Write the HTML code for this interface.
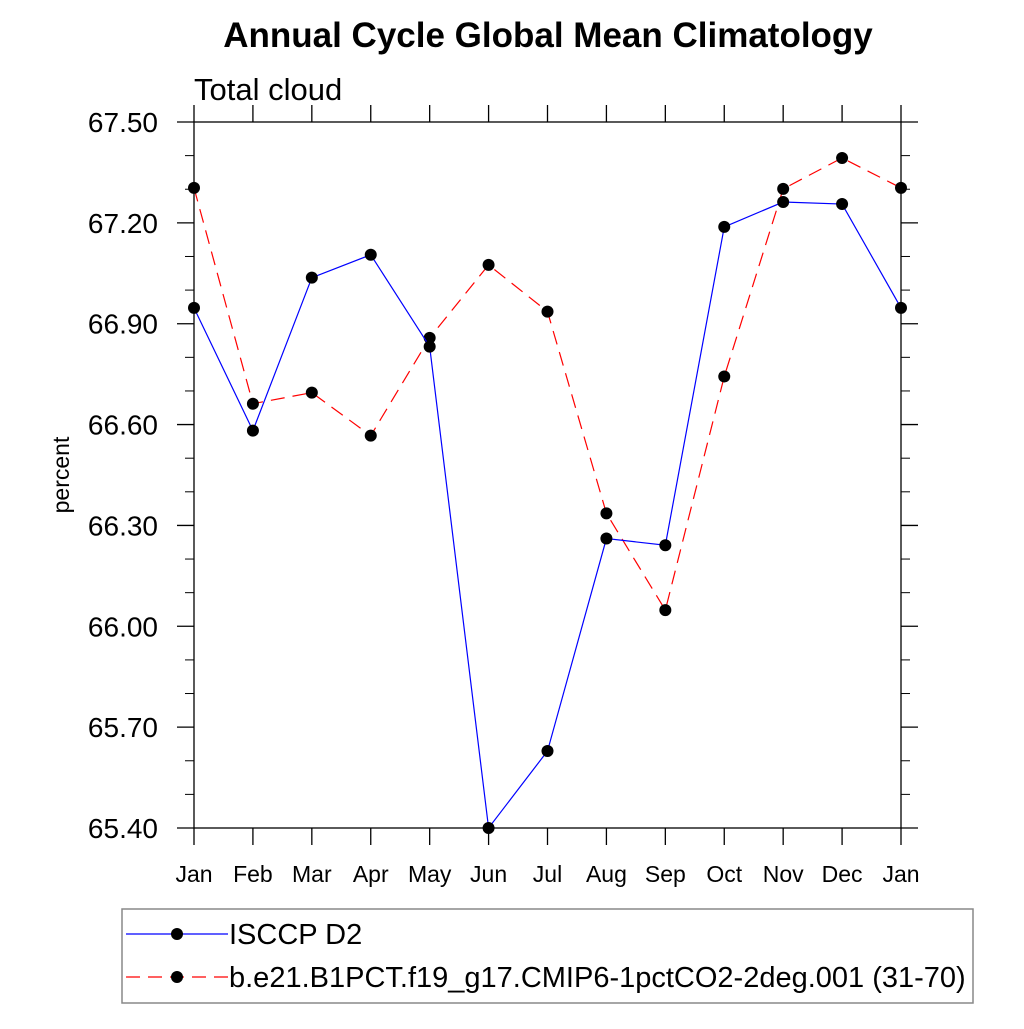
<!DOCTYPE html>
<html><head><meta charset="utf-8"><style>
body{margin:0;background:#fff;}
svg text{font-family:"Liberation Sans",Arial,sans-serif;}
</style></head><body>
<svg id="chart" width="1024" height="1024" viewBox="0 0 1024 1024" xmlns="http://www.w3.org/2000/svg">
<text x="548" y="47" text-anchor="middle" font-size="35" font-weight="bold">Annual Cycle Global Mean Climatology</text>
<text x="194" y="100" font-size="31">Total cloud</text>
<text transform="translate(69,475) rotate(-90)" text-anchor="middle" font-size="23">percent</text>
<g id="axes"></g>
<g id="series"></g>
<g>
<rect x="122" y="909" width="851" height="94" fill="none" stroke="#888" stroke-width="1.5"/>
<g>
<line x1="126" y1="934" x2="228" y2="934" stroke="#0000ff" stroke-width="1.2"/>
<circle cx="177" cy="934" r="6" fill="#000"/>
<text x="229" y="944" font-size="29">ISCCP D2</text></g>
<g>
<line x1="126" y1="977" x2="228" y2="977" stroke="#ff0000" stroke-width="1.2" stroke-dasharray="14,8"/>
<circle cx="177" cy="977" r="6" fill="#000"/>
<text x="229" y="987" font-size="29">b.e21.B1PCT.f19_g17.CMIP6-1pctCO2-2deg.001 (31-70)</text></g>
</g>
</svg>
<script>
const months=["Jan","Feb","Mar","Apr","May","Jun","Jul","Aug","Sep","Oct","Nov","Dec","Jan"];
const isccp=[66.947,66.582,67.037,67.105,66.832,65.40,65.629,66.261,66.241,67.188,67.262,67.256,66.947];
const model=[67.304,66.662,66.695,66.567,66.858,67.075,66.936,66.336,66.048,66.743,67.301,67.393,67.304];
const yTicks=[65.40,65.70,66.00,66.30,66.60,66.90,67.20,67.50];
const yTickLabels=["65.40","65.70","66.00","66.30","66.60","66.90","67.20","67.50"];
const X0=194,X1=901,Y0=828,Y1=122,YMIN=65.4,YMAX=67.5;
const xs=i=>X0+(X1-X0)*i/(months.length-1);
const ys=v=>Y0-(v-YMIN)/(YMAX-YMIN)*(Y0-Y1);
const NS="http://www.w3.org/2000/svg";
function mk(t,a,p){const e=document.createElementNS(NS,t);for(const k in a)e.setAttribute(k,a[k]);p.appendChild(e);return e;}
const ax=document.getElementById('axes');
mk('rect',{x:X0,y:Y1,width:X1-X0,height:Y0-Y1,fill:'none',stroke:'#000','stroke-width':1.3},ax);
yTicks.forEach((v,i)=>{
 const y=ys(v);
 const t=mk('line',{x1:X0-17,y1:y,x2:X0,y2:y,stroke:'#000','stroke-width':1.3},ax);
 
 
 mk('line',{x1:X1,y1:y,x2:X1+17,y2:y,stroke:'#000','stroke-width':1.3},ax);
 const l=mk('text',{x:158,y:y+10,'text-anchor':'end','font-size':28},ax);
 l.textContent=yTickLabels[i];
 
 
 if(i<yTicks.length-1){
  for(let k=1;k<3;k++){const ym=ys(v+0.1*k);
   mk('line',{x1:X0-9,y1:ym,x2:X0,y2:ym,stroke:'#000','stroke-width':1},ax);
   mk('line',{x1:X1,y1:ym,x2:X1+9,y2:ym,stroke:'#000','stroke-width':1},ax);}
 }
});
months.forEach((m,i)=>{
 const x=xs(i);
 mk('line',{x1:x,y1:Y0,x2:x,y2:Y0+17,stroke:'#000','stroke-width':1.3},ax);
 mk('line',{x1:x,y1:Y1-17,x2:x,y2:Y1,stroke:'#000','stroke-width':1.3},ax);
 const l=mk('text',{x:x,y:882,'text-anchor':'middle','font-size':23},ax);
 l.textContent=m;
 
 
});
const sg=document.getElementById('series');
function draw(vals,color,dash,name){
 const pl=mk('polyline',{points:vals.map((v,i)=>xs(i)+','+ys(v)).join(' '),fill:'none',stroke:color,'stroke-width':1.2,'stroke-dasharray':dash},sg);
 
 
 vals.forEach((v,i)=>{const c=mk('circle',{cx:xs(i),cy:ys(v),r:6,fill:'#000'},sg);
  
  });
}
draw(model,'#ff0000','14,8','model');
draw(isccp,'#0000ff','none','isccp');
</script>
</body></html>
